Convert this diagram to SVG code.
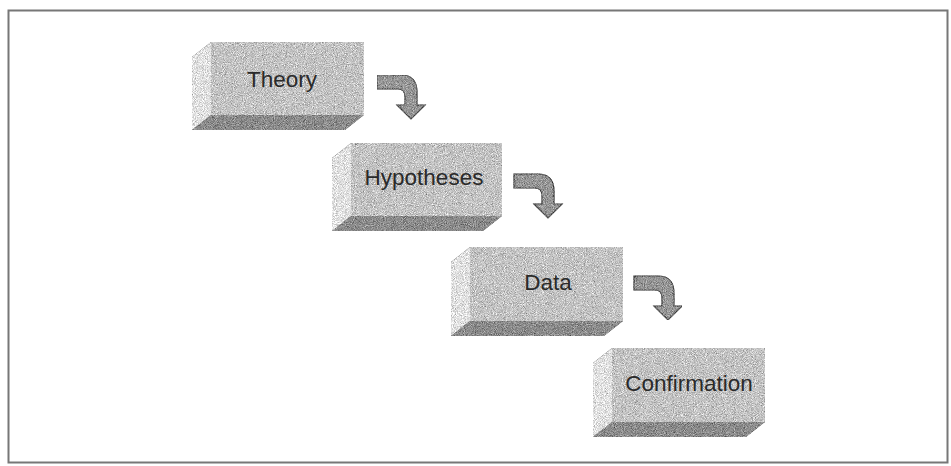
<svg xmlns="http://www.w3.org/2000/svg" width="951" height="466" viewBox="0 0 951 466">
<style>
.front{fill:#c4c4c4}
.left{fill:#e2e2e2}
.bottom{fill:#8c8c8c}
.lbl{font-family:"Liberation Sans",Arial,sans-serif;font-size:22.5px;fill:#2a2a2a;text-anchor:middle}
.arr{fill:#979797;stroke:#555555;stroke-width:1.2;stroke-linejoin:miter}
</style>
<defs>
<filter id="grain" x="0" y="0" width="100%" height="100%" color-interpolation-filters="sRGB">
<feTurbulence type="fractalNoise" baseFrequency="1.1" numOctaves="2" seed="7" result="n"/>
<feColorMatrix in="n" type="matrix" values="0.33 0.33 0.33 0 0  0.33 0.33 0.33 0 0  0.33 0.33 0.33 0 0  0 0 0 0 1" result="g"/>
<feComposite in="SourceGraphic" in2="g" operator="arithmetic" k1="0" k2="1" k3="1.2" k4="-0.6" result="m"/>
<feComposite in="m" in2="SourceGraphic" operator="in"/>
</filter>
<path id="bent" d="M0,0 H24 Q40,0 40,17 V30 H48 L34,44 L20,30 H28 V22 Q28,14 21,14 H0 Z"/>
</defs>
<rect x="0" y="0" width="951" height="466" fill="#ffffff"/>
<rect x="8.5" y="10.5" width="939" height="452" fill="none" stroke="#777777" stroke-width="2"/>

<g id="theory">
<g filter="url(#grain)">
<rect class="front" x="211" y="42" width="153" height="73"/>
<polygon class="left" points="211,42 211,115 192,130 192,57"/>
<polygon class="bottom" points="211,115 364,115 345,130 192,130"/>
</g>
<text class="lbl" x="282" y="87">Theory</text>
</g>

<g id="hypotheses">
<g filter="url(#grain)">
<rect class="front" x="351" y="143" width="151" height="73"/>
<polygon class="left" points="351,143 351,216 332,231 332,158"/>
<polygon class="bottom" points="351,216 502,216 483,231 332,231"/>
</g>
<text class="lbl" x="424" y="185">Hypotheses</text>
</g>

<g id="data">
<g filter="url(#grain)">
<rect class="front" x="470" y="247" width="153" height="74"/>
<polygon class="left" points="470,247 470,321 451,336 451,262"/>
<polygon class="bottom" points="470,321 623,321 604,336 451,336"/>
</g>
<text class="lbl" x="548" y="290">Data</text>
</g>

<g id="confirmation">
<g filter="url(#grain)">
<rect class="front" x="612" y="348" width="153" height="74"/>
<polygon class="left" points="612,348 612,422 593,437 593,363"/>
<polygon class="bottom" points="612,422 765,422 746,437 593,437"/>
</g>
<text class="lbl" x="689" y="391">Confirmation</text>
</g>

<g id="connectors" filter="url(#grain)">
<use href="#bent" class="arr" x="377" y="75"/>
<use href="#bent" class="arr" x="514" y="174"/>
<use href="#bent" class="arr" x="634" y="276"/>
</g>
</svg>
